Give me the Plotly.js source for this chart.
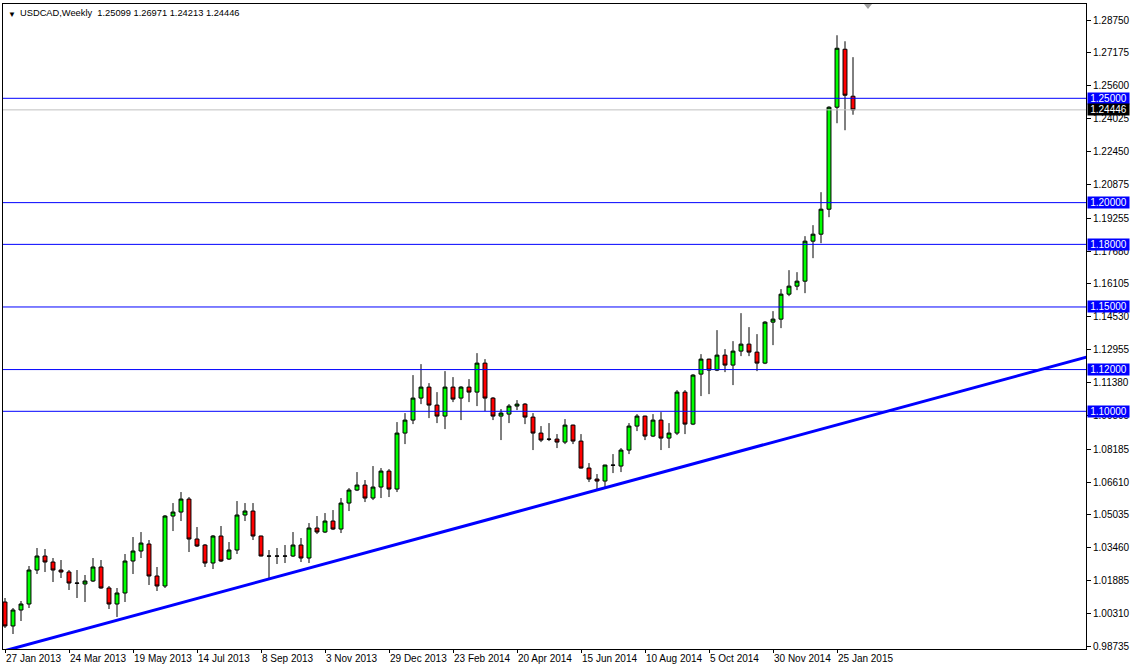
<!DOCTYPE html>
<html><head><meta charset="utf-8">
<script src="https://cdn.plot.ly/plotly-3.0.1.min.js"></script>
<style>html,body{margin:0;padding:0;background:#fff;} #chart{width:1131px;height:669px;}</style>
</head><body><div id="chart"></div>
<script>
const symbolName = 'USDCAD,Weekly';
const firstWeek = '2013-01-27';

const openP = [
1.00861, 0.99712, 1.00478, 1.00765, 1.02394, 1.03065, 1.02777, 1.02394, 1.02298, 1.01771,
1.01723, 1.01867, 1.02538, 1.01532, 1.00765, 1.01292, 1.02825, 1.03304, 1.03639, 1.02107,
1.01628, 1.04981, 1.05172, 1.05795, 1.03879, 1.03592, 1.02729, 1.04023, 1.02921, 1.03352,
1.05029, 1.05220, 1.04023, 1.03065, 1.03065, 1.03065, 1.03065, 1.03592, 1.02969, 1.04406,
1.04214, 1.04741, 1.04358, 1.05603, 1.06226, 1.06466, 1.05843, 1.06370, 1.07136, 1.06274,
1.08956, 1.09579, 1.10633, 1.11160, 1.10298, 1.09771, 1.11160, 1.10633, 1.11160, 1.10920,
1.12309, 1.10633, 1.09771, 1.09866, 1.10250, 1.10345, 1.09723, 1.08956, 1.08669, 1.08669,
1.08525, 1.09340, 1.08573, 1.07280, 1.06753, 1.06657, 1.07424, 1.07376, 1.08142, 1.09292,
1.09771, 1.08813, 1.09579, 1.08717, 1.08956, 1.10920, 1.09387, 1.11782, 1.12501, 1.11974,
1.12693, 1.12214, 1.12884, 1.13219, 1.12836, 1.12309, 1.14273, 1.14417, 1.15614, 1.15998,
1.16237, 1.18153, 1.18488, 1.19686, 1.24572, 1.27350, 1.25099
];
const highP = [
1.01053, 1.00574, 1.00909, 1.02586, 1.03448, 1.03400, 1.02969, 1.02873, 1.02394, 1.02394,
1.02155, 1.02969, 1.02873, 1.01628, 1.01532, 1.03160, 1.03975, 1.04214, 1.03831, 1.02538,
1.05029, 1.05603, 1.06130, 1.05891, 1.04454, 1.03639, 1.04071, 1.04502, 1.03735, 1.05699,
1.05603, 1.05603, 1.04040, 1.03352, 1.03448, 1.03592, 1.04214, 1.03927, 1.04645, 1.04981,
1.05124, 1.05268, 1.05843, 1.06322, 1.07088, 1.06705, 1.07376, 1.07280, 1.07232, 1.09483,
1.09914, 1.11735, 1.12261, 1.11351, 1.10920, 1.11926, 1.11639, 1.11208, 1.11543, 1.12788,
1.12501, 1.10681, 1.10106, 1.10345, 1.10537, 1.10393, 1.09914, 1.09292, 1.09435, 1.08908,
1.09627, 1.09360, 1.08908, 1.07519, 1.06992, 1.07440, 1.07950, 1.08238, 1.09435, 1.09866,
1.09790, 1.09866, 1.09962, 1.09435, 1.11016, 1.11016, 1.11782, 1.12740, 1.12520, 1.13890,
1.12980, 1.13363, 1.14704, 1.14034, 1.13698, 1.14321, 1.14800, 1.15854, 1.16764, 1.16668,
1.18393, 1.18920, 1.20500, 1.24620, 1.28021, 1.27733, 1.26971
];
const lowP = [
0.99616, 0.99328, 0.99951, 1.00574, 1.02202, 1.02298, 1.01819, 1.02011, 1.01436, 1.01053,
1.00861, 1.01819, 1.01500, 1.00526, 1.00143, 1.00861, 1.02202, 1.02969, 1.01676, 1.01388,
1.01532, 1.04262, 1.04741, 1.03256, 1.03496, 1.02538, 1.02442, 1.02777, 1.02873, 1.03160,
1.04741, 1.03831, 1.03050, 1.01915, 1.02681, 1.02729, 1.03017, 1.02777, 1.02729, 1.04118,
1.04166, 1.04310, 1.04166, 1.05220, 1.06178, 1.05651, 1.05747, 1.05843, 1.05891, 1.06130,
1.08429, 1.09387, 1.10345, 1.09675, 1.09435, 1.09148, 1.10441, 1.09579, 1.10441, 1.10250,
1.10010, 1.09579, 1.08621, 1.09435, 1.10058, 1.09387, 1.08142, 1.08525, 1.08573, 1.08238,
1.08429, 1.08429, 1.07260, 1.06609, 1.06274, 1.06370, 1.07040, 1.07088, 1.07950, 1.09052,
1.08621, 1.08765, 1.08142, 1.08238, 1.08861, 1.08908, 1.09340, 1.10729, 1.10824, 1.11926,
1.11878, 1.11256, 1.12645, 1.12645, 1.11926, 1.12261, 1.13172, 1.13986, 1.15519, 1.15806,
1.15662, 1.17339, 1.18057, 1.19303, 1.23805, 1.23470, 1.24213
];
const closeP = [
0.99712, 1.00478, 1.00765, 1.02394, 1.03065, 1.02777, 1.02394, 1.02298, 1.01771, 1.01760,
1.01867, 1.02538, 1.01532, 1.00765, 1.01292, 1.02825, 1.03304, 1.03687, 1.02107, 1.01628,
1.04981, 1.05172, 1.05795, 1.03879, 1.03544, 1.02729, 1.04023, 1.02825, 1.03352, 1.05029,
1.05220, 1.04023, 1.03065, 1.03060, 1.03060, 1.03060, 1.03592, 1.02969, 1.04406, 1.04214,
1.04741, 1.04358, 1.05603, 1.06226, 1.06466, 1.05843, 1.06370, 1.07136, 1.06274, 1.08956,
1.09579, 1.10633, 1.11160, 1.10298, 1.09771, 1.11160, 1.10585, 1.11160, 1.10920, 1.12309,
1.10633, 1.09771, 1.09914, 1.10250, 1.10345, 1.09723, 1.08956, 1.08621, 1.08660, 1.08525,
1.09340, 1.08573, 1.07280, 1.06753, 1.06657, 1.07424, 1.07415, 1.08142, 1.09292, 1.09771,
1.08813, 1.09579, 1.08717, 1.08956, 1.10920, 1.09387, 1.11735, 1.12501, 1.11974, 1.12693,
1.12214, 1.12884, 1.13219, 1.12836, 1.12309, 1.14273, 1.14417, 1.15614, 1.15998, 1.16237,
1.18153, 1.18488, 1.19686, 1.24572, 1.27398, 1.25147, 1.24446
];

const levelLines = [1.25, 1.20, 1.18, 1.15, 1.12, 1.10];
const bidLevel = 1.24446;
const dateTickLabels = ['27 Jan 2013','24 Mar 2013','19 May 2013','14 Jul 2013','8 Sep 2013','3 Nov 2013','29 Dec 2013','23 Feb 2014','20 Apr 2014','15 Jun 2014','10 Aug 2014','5 Oct 2014','30 Nov 2014','25 Jan 2015'];
const priceTicks = [1.28750,1.27175,1.25600,1.24025,1.22450,1.20875,1.19255,1.17680,1.16105,1.14530,1.12955,1.11380,1.09805,1.08185,1.06610,1.05035,1.03460,1.01885,1.00310,0.98735];
// trendline anchor points: [week offset, price]
const trendWeeks = [0, 136];
const trendPrices = [0.98530, 1.12681];

const WEEK = 7 * 86400000;
const t0 = Date.parse(firstWeek + 'T00:00:00Z');
function wk(k) { return new Date(t0 + k * WEEK).toISOString().replace('T', ' ').slice(0, 19); }
const dates = openP.map((_, i) => wk(i));
const n = openP.length;

const candles = {
  type: 'candlestick', x: dates, open: openP, high: highP, low: lowP, close: closeP,
  increasing: {line: {color: '#000000', width: 1}, fillcolor: '#00FF00'},
  decreasing: {line: {color: '#000000', width: 1}, fillcolor: '#FF0000'},
  whiskerwidth: 0, hoverinfo: 'skip', showlegend: false
};
const trend = {
  type: 'scatter', mode: 'lines', x: trendWeeks.map(wk), y: trendPrices,
  line: {color: '#0000FF', width: 3}, hoverinfo: 'skip', showlegend: false
};

const shapes = levelLines.map(v => ({type: 'line', xref: 'paper', x0: 0, x1: 1, yref: 'y', y0: v, y1: v, line: {color: '#0000FF', width: 1}, layer: 'above'}));
shapes.unshift({type: 'line', xref: 'paper', x0: 0, x1: 1, yref: 'y', y0: bidLevel, y1: bidLevel, line: {color: '#C0C0C0', width: 1}, layer: 'above'});
shapes.push({type: 'path', xref: 'paper', yref: 'paper', path: 'M 0.7950 1 L 0.8024 1 L 0.7987 0.9923 Z', fillcolor: '#A0A0A0', line: {width: 0}});

const ann = [];
ann.push({xref: 'paper', yref: 'paper', x: 0, y: 1, xanchor: 'left', yanchor: 'top', xshift: 3, yshift: -4, text: '▼', showarrow: false, font: {size: 8, color: '#000'}});
ann.push({xref: 'paper', yref: 'paper', x: 0, y: 1, xanchor: 'left', yanchor: 'top', xshift: 15, yshift: -2,
  text: symbolName + '  ' + [openP[n-1], highP[n-1], lowP[n-1], closeP[n-1]].map(v => v.toFixed(5)).join(' '),
  showarrow: false, font: {size: 9.3, color: '#000'}});
levelLines.forEach(v => ann.push({xref: 'paper', x: 1, xanchor: 'left', xshift: 1, yref: 'y', y: v, yanchor: 'middle', text: v.toFixed(5), showarrow: false, bgcolor: '#0000FF', font: {color: '#FFFFFF', size: 10}, width: 41, height: 11, borderpad: 0}));
ann.push({xref: 'paper', x: 1, xanchor: 'left', xshift: 1, yref: 'y', y: bidLevel, yanchor: 'middle', text: bidLevel.toFixed(5), showarrow: false, bgcolor: '#000000', font: {color: '#FFFFFF', size: 10}, width: 41, height: 11, borderpad: 0});

const layout = {
  width: 1131, height: 669,
  margin: {l: 3, r: 45, t: 4, b: 20, pad: 0},
  paper_bgcolor: '#FFFFFF', plot_bgcolor: '#FFFFFF',
  showlegend: false, boxgap: 0.3,
  font: {family: '"Liberation Sans", Arial, sans-serif', size: 10, color: '#000'},
  xaxis: {
    type: 'date', range: [wk(-0.25), wk(135.125)], rangeslider: {visible: false},
    tickmode: 'array', tickvals: dateTickLabels.map((_, j) => wk(8 * j)), ticktext: dateTickLabels,
    ticklabelposition: 'outside right', tickangle: 0, ticks: 'outside', ticklen: 3, tickcolor: '#000',
    ticklabelstandoff: 0,
    tickfont: {size: 10, color: '#000'},
    showgrid: false, zeroline: false, showline: true, mirror: true, linecolor: '#000', linewidth: 1, fixedrange: true
  },
  yaxis: {
    range: [0.98609, 1.29519], side: 'right',
    tickmode: 'array', tickvals: priceTicks, ticktext: priceTicks.map(v => v.toFixed(5)),
    ticks: 'outside', ticklen: 4, tickcolor: '#000', tickfont: {size: 10, color: '#000'},
    showgrid: false, zeroline: false, showline: true, mirror: true, linecolor: '#000', linewidth: 1, fixedrange: true
  },
  shapes: shapes, annotations: ann
};

Plotly.newPlot('chart', [candles, trend], layout, {staticPlot: true, displayModeBar: false});
</script>
</body></html>
